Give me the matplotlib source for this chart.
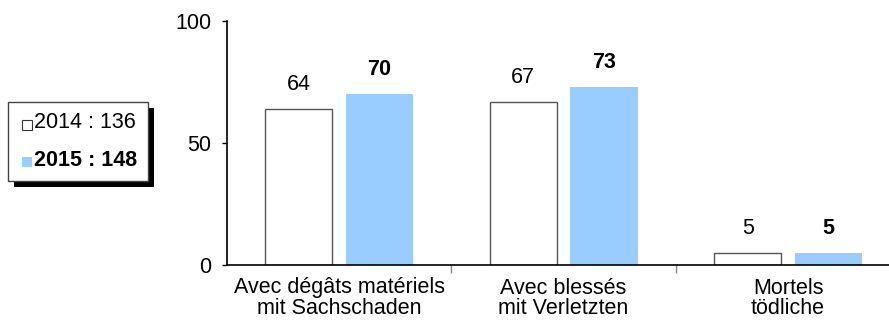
import numpy as np
import matplotlib
matplotlib.use("Agg")
import matplotlib.pyplot as plt
from matplotlib.patches import Rectangle

categories = ["Avec dégâts matériels\nmit Sachschaden", "Avec blessés\nmit Verletzten", "Mortels\ntödliche"]
vals_2014 = [64, 67, 5]
vals_2015 = [70, 73, 5]
legend_labels = ["2014 : 136", "2015 : 148"]

plt.rcParams['font.family'] = ['Liberation Sans', 'DejaVu Sans']
FS = 15.5

W, H = 889, 322
fig = plt.figure(figsize=(W / 100, H / 100), dpi=100)
ax = fig.add_axes([227 / W, 1 - 265 / H, (W - 227) / W, (265 - 21) / H])

x = np.arange(len(categories))
bw = 0.3
off = 0.18
ax.bar(x - off, vals_2014, bw, color="white", edgecolor="#555555", linewidth=1.0)
ax.bar(x + off, vals_2015, bw, color="#99CCFF", edgecolor="none")

for xi, v in zip(x, vals_2014):
    ax.annotate(str(v), (xi - off, v), xytext=(0, 10), textcoords="offset points",
                ha="center", va="bottom", fontsize=FS)
for xi, v in zip(x, vals_2015):
    ax.annotate(str(v), (xi + off, v), xytext=(0, 10), textcoords="offset points",
                ha="center", va="bottom", fontsize=FS, fontweight="bold")

ax.set_ylim(0, 100)
ax.set_xlim(-0.5, 2.45)
ax.set_yticks([0, 50, 100])
ax.tick_params(axis="y", labelsize=FS, length=3.5, width=1, pad=8, direction="out")
ax.set_xticks(x)
ax.set_xticklabels(categories, fontsize=FS, linespacing=0.95)
ax.tick_params(axis="x", length=0, pad=9)
# category boundary ticks
ax.set_xticks([0.5, 1.5], minor=True)
ax.tick_params(axis="x", which="minor", length=6, color="#888888", width=1)
for s in ["top", "right"]:
    ax.spines[s].set_visible(False)
ax.spines["left"].set_linewidth(1.2)
ax.spines["bottom"].set_linewidth(1.2)

# legend box with shadow
bx0, by0, bx1, by1 = 8, 102, 148, 181
sh = 6
fig.patches.append(Rectangle(((bx0 + sh) / W, 1 - (by1 + sh) / H), (bx1 - bx0) / W, (by1 - by0) / H,
                             transform=fig.transFigure, facecolor="black", edgecolor="none", zorder=1))
fig.patches.append(Rectangle((bx0 / W, 1 - by1 / H), (bx1 - bx0) / W, (by1 - by0) / H,
                             transform=fig.transFigure, facecolor="white", edgecolor="#444444",
                             linewidth=1, zorder=2))
fig.patches.append(Rectangle((22 / W, 1 - 130 / H), 10 / W, 10 / H, transform=fig.transFigure,
                             facecolor="white", edgecolor="#333333", linewidth=0.8, zorder=3))
fig.patches.append(Rectangle((22 / W, 1 - 167 / H), 10 / W, 10 / H, transform=fig.transFigure,
                             facecolor="#99CCFF", edgecolor="none", zorder=3))
fig.text(34 / W, 1 - 123 / H, legend_labels[0], fontsize=FS, va="center", ha="left", zorder=4)
fig.text(34 / W, 1 - 161 / H, legend_labels[1], fontsize=FS, va="center", ha="left",
         fontweight="bold", zorder=4)

fig.savefig("out.png", dpi=100)
